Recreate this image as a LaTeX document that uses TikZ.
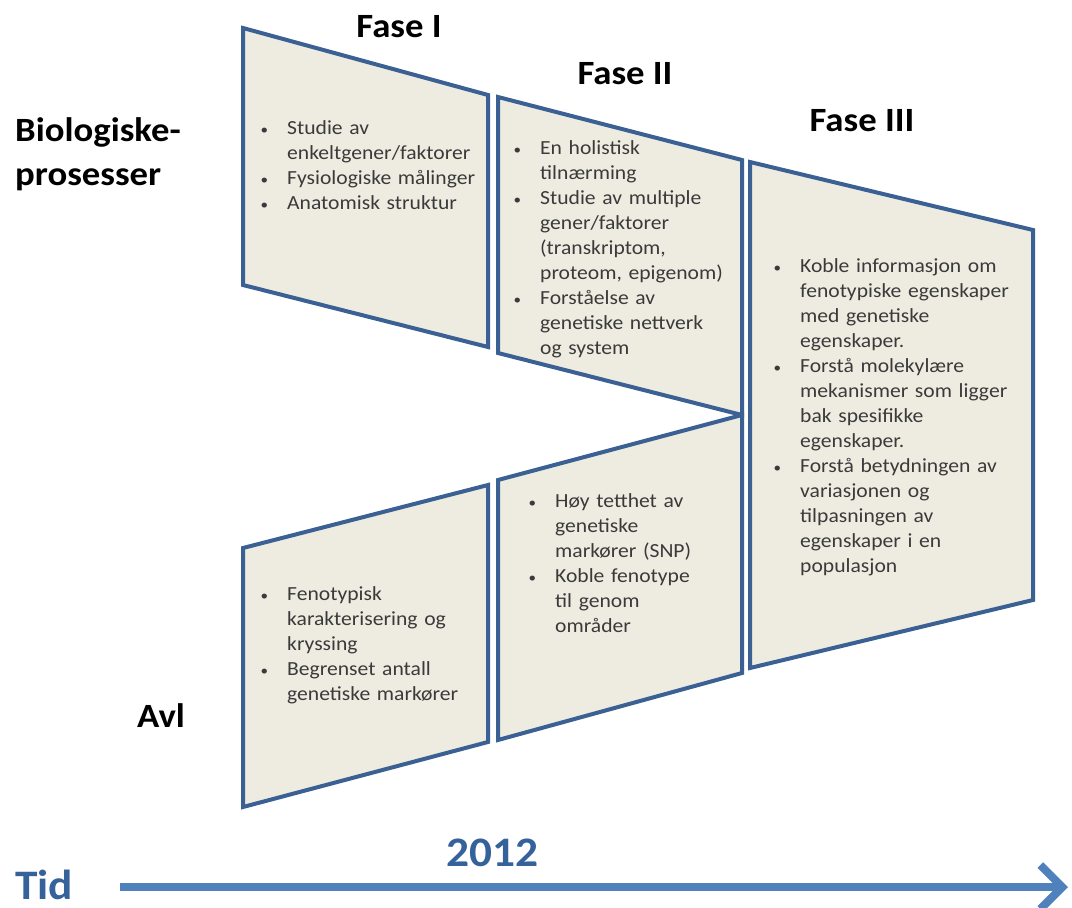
\documentclass[tikz,border=0pt]{standalone}
\usepackage{fontspec}
\setmainfont[FakeStretch=1.08]{Carlito}
\usepackage{enumitem}
\usetikzlibrary{arrows.meta}

\definecolor{fasefyll}{HTML}{EEECE1}
\definecolor{faselinje}{HTML}{3B6194}
\definecolor{tidbla}{HTML}{4F81BD}
\definecolor{aarbla}{HTML}{35629A}
\definecolor{punkttekst}{HTML}{3A3A3A}

\newlist{punkter}{itemize}{1}
\setlist[punkter]{label={\fontsize{14}{14}\selectfont\textbullet},leftmargin=25pt,labelsep=19pt,
  itemsep=0pt,parsep=0pt,topsep=0pt,partopsep=0pt}

\begin{document}
\begin{tikzpicture}[x=1pt,y=-1pt,
    fase/.style={draw=faselinje,fill=fasefyll,line width=4pt,line join=miter},
    overskrift/.style={font=\fontsize{34}{44}\selectfont\bfseries,inner sep=0pt},
    liste/.style={text=punkttekst,anchor=north west,inner sep=0pt,text width=260pt,
      font=\fontsize{20}{25}\selectfont},
    tidspil/.style={draw=tidbla,line width=8pt,-{Straight Barb[length=22pt,width=44pt]}}]
  \useasboundingbox (0,0) rectangle (1072,908);

  % biologiske prosesser
  \draw[fase] (243,28) -- (488,95) -- (488,347) -- (243,285) -- cycle;
  \draw[fase] (498,97) -- (742,160) -- (742,415) -- (498,353) -- cycle;
  \draw[fase] (750,162) -- (1033,230) -- (1033,600) -- (750,668) -- cycle;
  % avl
  \draw[fase] (243,548) -- (488,485) -- (488,742) -- (243,807) -- cycle;
  \draw[fase] (498,480) -- (742,415) -- (742,673) -- (498,740) -- cycle;

  \node[overskrift,anchor=base] (fase1) at (399,37)  {Fase I};
  \node[overskrift,anchor=base] (fase2) at (625,84)  {Fase II};
  \node[overskrift,anchor=base] (fase3) at (862,131) {Fase III};
  \node[overskrift,anchor=north west,align=left] (bio) at (15,117) {Biologiske-\\prosesser};
  \node[overskrift,anchor=base west] (avl) at (137,727) {Avl};

  \node[liste] (liste1) at (262,109) {\begin{punkter}
      \item Studie av\\enkeltgener/faktorer
      \item Fysiologiske målinger
      \item Anatomisk struktur
    \end{punkter}};
  \node[liste] (liste2) at (515,129) {\begin{punkter}
      \item En holistisk\\tilnærming
      \item Studie av multiple\\gener/faktorer\\(transkriptom,\\proteom, epigenom)
      \item Forståelse av\\genetiske nettverk\\og system
    \end{punkter}};
  \node[liste] (liste3) at (775,247) {\begin{punkter}
      \item Koble informasjon om\\fenotypiske egenskaper\\med genetiske\\egenskaper.
      \item Forstå molekylære\\mekanismer som ligger\\bak spesifikke\\egenskaper.
      \item Forstå betydningen av\\variasjonen og\\tilpasningen av\\egenskaper i en\\populasjon
    \end{punkter}};
  \node[liste] (liste4) at (262,575) {\begin{punkter}
      \item Fenotypisk\\karakterisering og\\kryssing
      \item Begrenset antall\\genetiske markører
    \end{punkter}};
  \node[liste] (liste5) at (530,482) {\begin{punkter}
      \item Høy tetthet av\\genetiske\\markører (SNP)
      \item Koble fenotype\\til genom\\områder
    \end{punkter}};

  % tidslinje
  \node[overskrift,anchor=base,text=aarbla,font=\fontsize{42}{42}\selectfont\bfseries] (aar) at (492,866) {2012};
  \node[overskrift,anchor=base west,text=aarbla,font=\fontsize{42}{42}\selectfont\bfseries] (tid) at (15,899) {Tid};
  \coordinate (start) at (120,887);
  \coordinate (slutt) at (1068,887);
  \draw[tidspil] (start) -- (slutt);
\end{tikzpicture}
\end{document}
